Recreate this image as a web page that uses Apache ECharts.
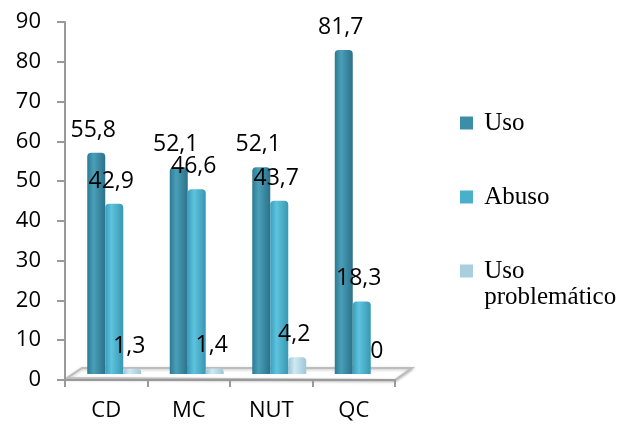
<!DOCTYPE html>
<html>
<head>
<meta charset="utf-8">
<script src="https://cdn.jsdelivr.net/npm/echarts@6/dist/echarts.min.js"></script>
<style>html,body{margin:0;padding:0;background:#fff}#c{width:623px;height:426px}</style>
</head>
<body>
<div id="c"></div>
<script>
const categories = ['CD', 'MC', 'NUT', 'QC'];
const seriesNames = ['Uso', 'Abuso', 'Uso problemático'];
const uso = [55.8, 52.1, 52.1, 81.7];
const abuso = [42.9, 46.6, 43.7, 18.3];
const usoProblematico = [1.3, 1.4, 4.2, 0];
const yTicks = [0, 10, 20, 30, 40, 50, 60, 70, 80, 90];

const W = 623, H = 426;
const G = {left: 65, right: 228, top: 22, bottom: 46};
const DEPTH_X = 17, DEPTH_Y = 12, SHIFT_X = 8;

function grad(c0, c1, c2) {
  return new echarts.graphic.LinearGradient(0, 0, 1, 0, [
    {offset: 0, color: c0}, {offset: 0.35, color: c1}, {offset: 1, color: c2}
  ]);
}
const colors = [
  grad('#2C7A92', '#4A9FB8', '#2B7189'),
  grad('#3A9FBC', '#5EC3DE', '#3897B2'),
  grad('#98C4D6', '#D0E9F2', '#9DC7D8')
];
const legendColors = ['#3C8DA6', '#4AAFCB', '#A9CFDE'];
const fmt = p => String(p.value).replace('.', ',');

const chart = echarts.init(document.getElementById('c'));
const x0 = G.left, x1 = W - G.right, yb = H - G.bottom;
const legendBase = {
  orient: 'vertical', left: 460, padding: 0, itemWidth: 13, itemHeight: 13,
  icon: 'rect', selectedMode: false,
  textStyle: {fontFamily: 'Liberation Serif', fontSize: 25, lineHeight: 26, color: '#000'}
};
function mkSeries(i, data) {
  return {
    name: seriesNames[i], type: 'bar', data: data, xAxisIndex: 1, yAxisIndex: 1,
    barWidth: 18, barGap: '0%',
    itemStyle: {color: colors[i], borderRadius: [4, 4, 0, 0]},
    label: {show: true, position: 'top', distance: 11, offset: [-3, 0], formatter: fmt,
      fontFamily: 'Open Sans', fontSize: 23, color: '#000'}
  };
}
chart.setOption({
  animation: false,
  color: legendColors,
  legend: [
    Object.assign({}, legendBase, {top: 110, data: [{name: seriesNames[0], itemStyle: {color: legendColors[0]}}],
      formatter: n => ' ' + n}),
    Object.assign({}, legendBase, {top: 184, data: [{name: seriesNames[1], itemStyle: {color: legendColors[1]}}],
      formatter: n => ' ' + n}),
    Object.assign({}, legendBase, {top: 232, data: [{name: seriesNames[2], itemStyle: {color: legendColors[2]}}],
      formatter: n => ' \n ' + n.replace(' ', '\n '),
      textStyle: Object.assign({}, legendBase.textStyle)})
  ],
  grid: [
    G,
    {left: G.left + SHIFT_X, right: G.right - SHIFT_X, top: 17, bottom: 52}
  ],
  xAxis: [
    {type: 'category', data: categories, gridIndex: 0, offset: 0,
      axisLine: {lineStyle: {color: '#9a9a9a', width: 2}},
      axisTick: {show: true, length: 7, lineStyle: {color: '#9a9a9a', width: 2}},
      axisLabel: {fontFamily: 'Open Sans', fontSize: 22, color: '#000', margin: 20}},
    {type: 'category', data: categories, gridIndex: 1, show: false}
  ],
  yAxis: [
    {type: 'value', gridIndex: 0, min: 0, max: 90, interval: 10,
      axisLine: {show: true, lineStyle: {color: '#9a9a9a', width: 2}},
      axisTick: {show: true, length: 8, lineStyle: {color: '#9a9a9a', width: 2}},
      splitLine: {show: false},
      axisLabel: {fontFamily: 'Open Sans', fontSize: 22, color: '#000', margin: 24,
        formatter: v => yTicks.includes(v) ? String(v) : ''}},
    {type: 'value', gridIndex: 1, min: 0, max: 90, show: false, splitLine: {show: false}}
  ],
  graphic: [{
    type: 'polygon', z: 0,
    shape: {points: [[x0 + 2, yb - 2], [x0 + DEPTH_X, yb - DEPTH_Y], [x1 + DEPTH_X, yb - DEPTH_Y], [x1, yb]]},
    style: {fill: '#fff', stroke: '#bdbdbd', lineWidth: 2, shadowBlur: 3, shadowColor: 'rgba(0,0,0,0.25)', shadowOffsetY: 1}
  }],
  series: [mkSeries(0, uso), mkSeries(1, abuso), mkSeries(2, usoProblematico)]
});
</script>
</body>
</html>
